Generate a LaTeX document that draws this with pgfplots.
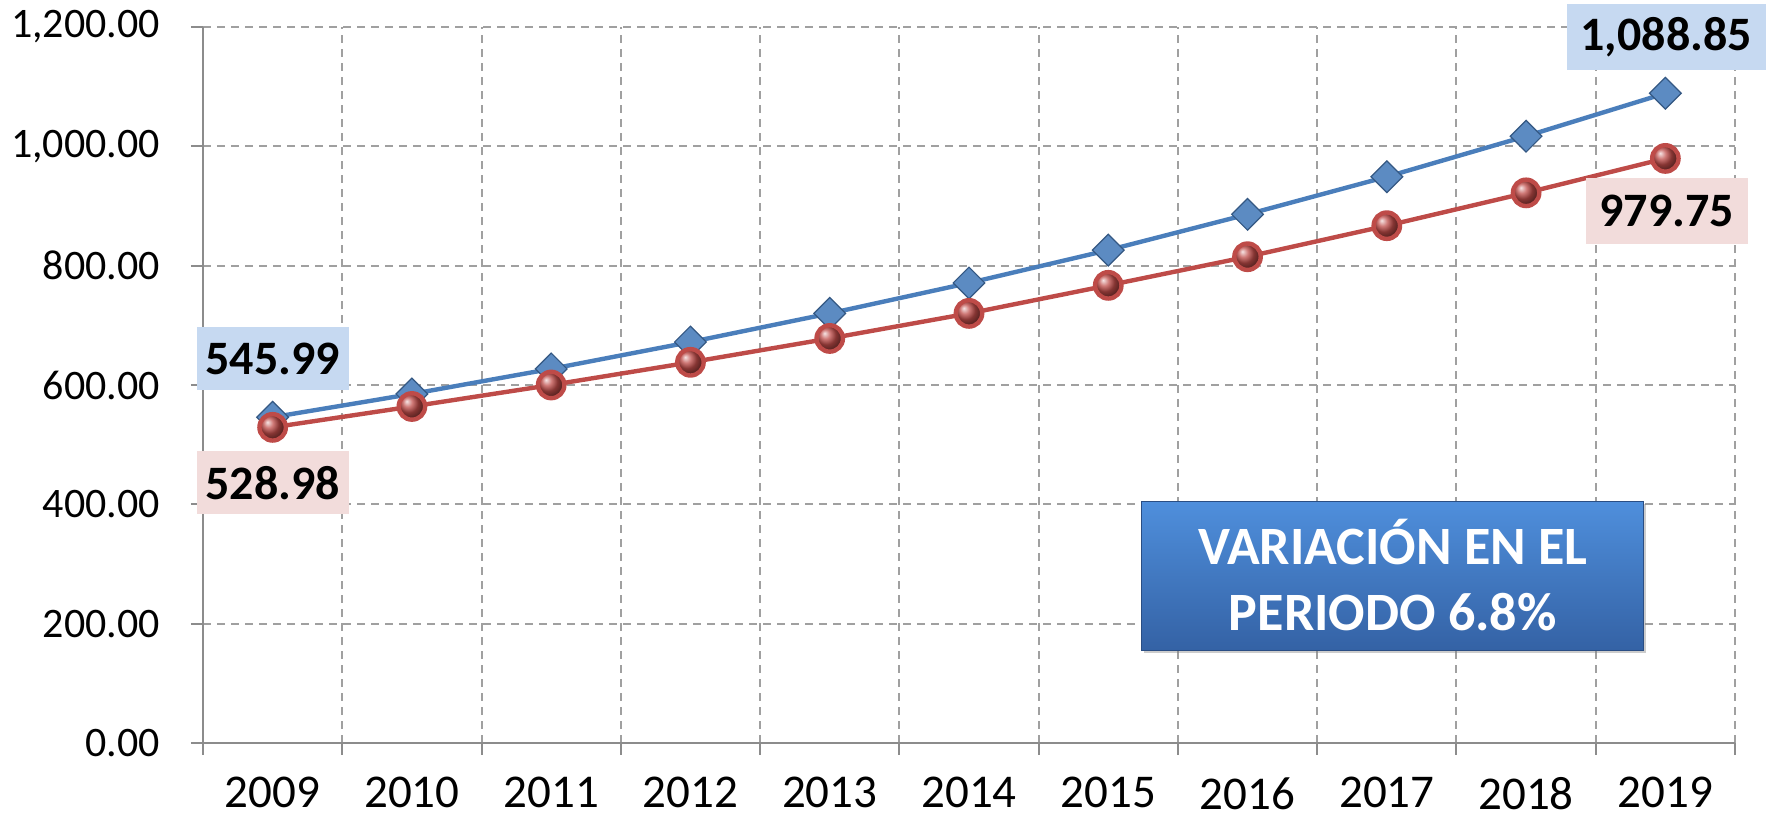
\documentclass[border=0pt]{standalone}
\usepackage{fontspec}
\setmainfont{Carlito}
\usepackage{pgfplots}
\pgfplotsset{compat=1.18}
\usetikzlibrary{shadows}
\definecolor{serblue}{HTML}{4A7EBB}
\definecolor{serred}{HTML}{BE4B48}
\definecolor{lblblue}{HTML}{C6D9F1}
\definecolor{lblred}{HTML}{F2DCDB}
\definecolor{gridgray}{HTML}{A0A0A0}
\definecolor{axgray}{HTML}{8C8C8C}
\definecolor{boxtop}{HTML}{4F8FDC}
\definecolor{boxbot}{HTML}{3462A5}
\begin{document}
\begin{tikzpicture}
\useasboundingbox (0,0) rectangle (889.5pt,411.5pt);
\begin{axis}[
  at={(101.5pt,40pt)}, anchor=south west,
  scale only axis, width=766pt, height=358pt,
  xmin=-0.5, xmax=10.5, ymin=0, ymax=1200,
  clip=false,
  axis x line*=bottom, axis y line*=left,
  axis line style={-, draw=axgray, line width=1pt},
  xtick={0,...,10},
  xticklabels={2009,2010,2011,2012,2013,2014,2015,2016,2017,2018,2019},
  minor xtick={-0.5,0.5,...,10.5},
  major x tick style={draw=none},
  xminorgrids=true,
  ytick={0,200,...,1200},
  yticklabels={0.00,200.00,400.00,600.00,800.00,1{,}000.00,1{,}200.00},
  ymajorgrids=true,
  tick align=outside,
  major tick length=6pt, minor tick length=6pt,
  tick style={draw=axgray, line width=1pt},
  grid style={draw=gridgray, line width=1pt, dash pattern=on 4pt off 3pt},
  minor grid style={draw=gridgray, line width=1pt, dash pattern=on 4pt off 3pt},
  ticklabel style={text=black},
  yticklabel style={xshift=-12pt, font=\fontsize{21}{25}\selectfont},
  xticklabel style={inner sep=0pt, yshift=-11pt, font=\fontsize{23.5}{28}\selectfont},
]
\addplot[serblue, line width=2.2pt, mark=square*, mark size=5.6pt,
  mark options={rotate=45, fill=serblue!90!white, draw=serblue!70!black, line width=0.6pt}]
  coordinates {(0,545.99)(1,585)(2,627)(3,672)(4,720)(5,771)(6,826)(7,886)(8,949)(9,1017)(10,1088.85)};
\addplot[serred, line width=2.2pt, mark=ball, mark size=6.6pt,
  mark options={ball color=serred}]
  coordinates {(0,528.98)(1,564)(2,600)(3,638)(4,678)(5,720)(6,767)(7,815)(8,867)(9,922)(10,979.75)};
\node[fill=lblblue, minimum width=76pt, minimum height=31.5pt, inner sep=0pt,
  font=\fontsize{24}{28}\selectfont\bfseries] at (axis cs:0,644) {545.99};
\node[fill=lblred, minimum width=76pt, minimum height=31.5pt, inner sep=0pt,
  font=\fontsize{24}{28}\selectfont\bfseries] at (axis cs:0,436) {528.98};
\node[fill=lblblue, minimum width=99.5pt, minimum height=33pt, inner sep=0pt,
  font=\fontsize{24}{28}\selectfont\bfseries] at (axis cs:10.006,1183) {1,088.85};
\node[fill=lblred, minimum width=81pt, minimum height=33pt, inner sep=0pt,
  font=\fontsize{24}{28}\selectfont\bfseries] at (axis cs:10.01,892) {979.75};
\node[top color=boxtop, bottom color=boxbot, draw=boxbot!80!black, line width=0.5pt,
  drop shadow={shadow xshift=1pt, shadow yshift=-1.5pt, opacity=0.4},
  minimum width=251pt, minimum height=74.5pt, inner sep=0pt, align=center,
  text=white, font=\fontsize{27}{33}\selectfont\bfseries] at (axis cs:8.043,280.7)
  {VARIACIÓN EN EL\\PERIODO 6.8\%};
\end{axis}
\end{tikzpicture}
\end{document}
